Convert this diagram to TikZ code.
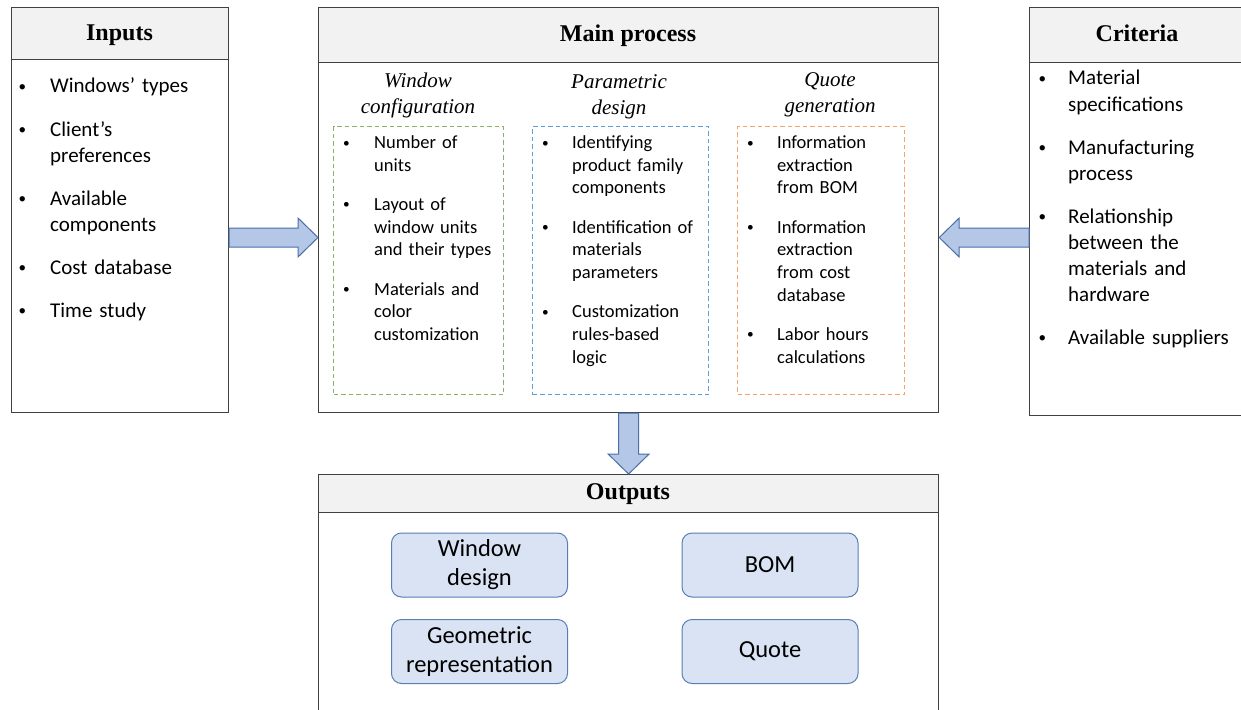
\documentclass[tikz,border=0pt]{standalone}
\usepackage{fontspec}
\setmainfont{Liberation Serif}
\newfontfamily\bodyfont{Carlito}
\usetikzlibrary{calc}

\definecolor{frame}{HTML}{404040}
\definecolor{headfill}{HTML}{F2F2F2}
\definecolor{arrowfill}{HTML}{B4C7E7}
\definecolor{arrowline}{HTML}{4A6FA5}
\definecolor{outfill}{HTML}{DAE3F3}
\definecolor{outline}{HTML}{5A7DB5}
\definecolor{dgreen}{HTML}{8DB06A}
\definecolor{dblue}{HTML}{5BA0DC}
\definecolor{dorange}{HTML}{F4A26A}

% bullet items with a hanging indent
\newlength\bulind
\newlength\bulshift
\newcommand\bitem[1]{\par\hangindent=\bulind\hangafter=1\noindent\strut
  \makebox[\bulind][l]{\hspace*{\bulshift}\raisebox{0.08em}{\scalebox{0.72}{\textbullet}}}#1\par}

\tikzset{
  panel/.style={draw=frame, line width=1.2pt, fill=white, inner sep=0pt, anchor=north west},
  headbar/.style={draw=frame, line width=1.2pt, fill=headfill, inner sep=0pt, anchor=north west},
  title/.style={font=\fontsize{24}{28}\selectfont\bfseries, anchor=base, inner sep=0pt},
  subhead/.style={font=\fontsize{21}{26}\selectfont\itshape, text width=200pt, align=center, anchor=north, inner sep=0pt},
  biglist/.style={font=\bodyfont\fontsize{21}{26}\selectfont, text width=200pt, align=left, anchor=north west, inner sep=0pt},
  smalllist/.style={font=\bodyfont\fontsize{18.5}{22.7}\selectfont, text width=170pt, align=left, anchor=north west, inner sep=0pt},
  stagebox/.style={dash pattern=on 4.5pt off 3pt, line width=1.1pt, inner sep=0pt, anchor=north west, minimum height=268pt},
  outbox/.style={draw=outline, fill=outfill, rounded corners=10pt, line width=1pt, minimum width=176pt, minimum height=64pt, inner sep=0pt, align=center, font=\bodyfont\fontsize{24.5}{29}\selectfont},
  blockarrow/.style={draw=arrowline, fill=arrowfill, line width=1pt, line join=miter},
}

\begin{document}
\begin{tikzpicture}[x=1pt, y=-1pt]
\clip (0,0) rectangle (1241,709);
\fill[white] (0,0) rectangle (1241,709);

% Inputs panel
\node[panel, minimum width=217, minimum height=405] (inputs) at (11,7) {};
\node[headbar, minimum width=217, minimum height=52] (inputsH) at (inputs.north west) {};
\node[title] (inputsT) at (119.5,41) {Inputs};
\node[biglist] (inputsL) at (21,49.8) {\setlength\parskip{17pt}\setlength\bulind{29pt}\setlength\bulshift{-2.5pt}%
  \bitem{Windows’ types}%
  \bitem{Client’s\newline preferences}%
  \bitem{Available\newline components}%
  \bitem{Cost database}%
  \bitem{Time study}};

% Main process panel
\node[panel, minimum width=620, minimum height=405] (main) at (318,7) {};
\node[headbar, minimum width=620, minimum height=55] (mainH) at (main.north west) {};
\node[title] (mainT) at (628,41.5) {Main process};

\node[subhead] (cfgT) at (418,72.3) {Window\\configuration};
\node[subhead] (parT) at (619,74.3) {Parametric\\design};
\node[subhead] (quoT) at (830,72.3) {Quote\\generation};

\node[stagebox, draw=dgreen, minimum width=170] (cfg) at (333,126) {};
\node[stagebox, draw=dblue, minimum width=176] (par) at (532,126) {};
\node[stagebox, draw=dorange, minimum width=167] (quo) at (737,126) {};

\node[smalllist] (cfgL) at (344,109.1) {\setlength\parskip{16.5pt}\setlength\bulind{30pt}\setlength\bulshift{-1pt}%
  \bitem{Number of\newline units}%
  \bitem{Layout of\newline window units\newline and their types}%
  \bitem{Materials and\newline color\newline customization}};
\node[smalllist] (parL) at (543,109.1) {\setlength\parskip{16.5pt}\setlength\bulind{29pt}\setlength\bulshift{-1pt}%
  \bitem{Identifying\newline product family\newline components}%
  \bitem{Identification of\newline materials\newline parameters}%
  \bitem{Customization\newline rules-based\newline logic}};
\node[smalllist] (quoL) at (748,109.1) {\setlength\parskip{16.5pt}\setlength\bulind{29pt}\setlength\bulshift{-1pt}%
  \bitem{Information\newline extraction\newline from BOM}%
  \bitem{Information\newline extraction\newline from cost\newline database}%
  \bitem{Labor hours\newline calculations}};

% Criteria panel
\node[panel, minimum width=216, minimum height=408] (crit) at (1029,7) {};
\node[headbar, minimum width=216, minimum height=55] (critH) at (crit.north west) {};
\node[title] (critT) at (1137,41.5) {Criteria};
\node[biglist] (critL) at (1040,41.8) {\setlength\parskip{17pt}\setlength\bulind{28pt}\setlength\bulshift{-1.5pt}%
  \bitem{Material\newline specifications}%
  \bitem{Manufacturing\newline process}%
  \bitem{Relationship\newline between the\newline materials and\newline hardware}%
  \bitem{Available suppliers}};

% Outputs panel
\node[panel, minimum width=620, minimum height=250] (outputs) at (318,474) {};
\node[headbar, minimum width=620, minimum height=38] (outputsH) at (outputs.north west) {};
\node[title] (outputsT) at (628,499) {Outputs};

\node[outbox] (design) at (479.5,565) {Window\\design};
\node[outbox] (bom) at (770,565) {BOM};
\node[outbox] (geom) at (479.5,651.5) {Geometric\\representation};
\node[outbox] (quote) at (770,651.5) {Quote};

% Block arrows into and out of the main process
\coordinate (ra0) at (inputs.east |- 0,237.5);
\coordinate (ra1) at (main.west |- 0,237.5);
\draw[blockarrow] ($(ra0)+(0,-9.5)$) -- ($(ra1)+(-20,-9.5)$) -- ($(ra1)+(-20,-19.5)$) -- (ra1)
  -- ($(ra1)+(-20,19.5)$) -- ($(ra1)+(-20,9.5)$) -- ($(ra0)+(0,9.5)$) -- cycle;

\coordinate (la0) at (crit.west |- 0,237.5);
\coordinate (la1) at (main.east |- 0,237.5);
\draw[blockarrow] ($(la0)+(0,-9.5)$) -- ($(la1)+(20,-9.5)$) -- ($(la1)+(20,-19.5)$) -- (la1)
  -- ($(la1)+(20,19.5)$) -- ($(la1)+(20,9.5)$) -- ($(la0)+(0,9.5)$) -- cycle;

\coordinate (da0) at (main.south);
\coordinate (da1) at (outputs.north);
\draw[blockarrow] ($(da0)+(-10,0)$) -- ($(da1)+(-10,-20)$) -- ($(da1)+(-20.5,-20)$) -- (da1)
  -- ($(da1)+(20.5,-20)$) -- ($(da1)+(10,-20)$) -- ($(da0)+(10,0)$) -- cycle;
\end{tikzpicture}
\end{document}
